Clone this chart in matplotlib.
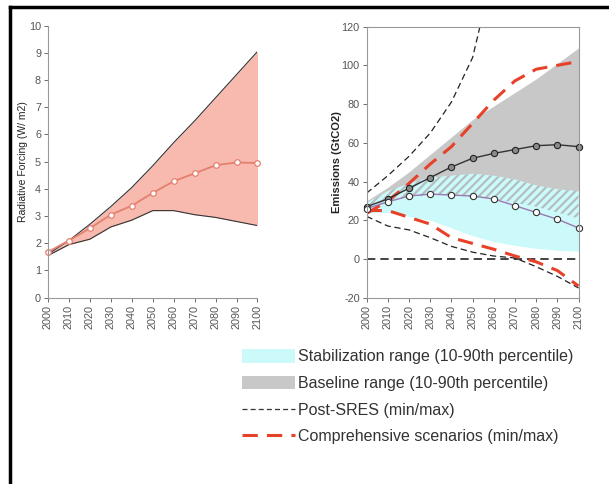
import matplotlib
matplotlib.use('Agg')
import matplotlib.pyplot as plt
from matplotlib.patches import Patch
from matplotlib.lines import Line2D
import numpy as np

plt.rcParams['font.family'] = ['Liberation Sans', 'DejaVu Sans']
plt.rcParams['axes.unicode_minus'] = False
plt.rcParams['hatch.color'] = '#b4bebe'
plt.rcParams['hatch.linewidth'] = 1.6

years = np.arange(2000, 2101, 10)

# left panel: radiative forcing
rf_upper = [1.6, 2.1, 2.7, 3.35, 4.05, 4.85, 5.7, 6.5, 7.35, 8.2, 9.05]
rf_lower = [1.55, 1.95, 2.15, 2.6, 2.85, 3.2, 3.2, 3.05, 2.95, 2.8, 2.65]
rf_median = [1.68, 2.1, 2.55, 3.05, 3.38, 3.85, 4.28, 4.57, 4.87, 4.97, 4.95]

# right panel: emissions
base_upper = [30, 37, 45, 54, 63, 72, 79, 86, 93, 101, 109]
base_lower = [27, 30, 32, 33, 33, 32, 31, 29, 27, 24, 21]
stab_upper = [29, 35, 39, 42, 43, 44, 43, 41, 38, 36, 35]
stab_lower = [24, 24, 22, 20, 16, 12, 9, 7, 5.5, 4.5, 4]
base_median = [27, 31, 36.5, 42, 47.5, 52, 54.5, 56.5, 58.5, 59, 58]
stab_median = [26, 29.5, 32.5, 33.5, 33, 32.5, 31, 27.5, 24, 20.5, 16]
sres_years_up = [2000, 2010, 2020, 2030, 2040, 2050, 2060]
sres_upper = [34, 43, 53, 65, 81, 104, 150]
sres_lower = [22, 17, 15, 11, 6.5, 3.5, 1.5, 0.5, -4, -9, -15]
comp_upper = [23.5, 30, 39, 49, 58, 70, 82, 92, 98, 100, 102]
comp_lower = [25, 25, 21.5, 18, 11, 8, 5, 1.5, -1.5, -6, -14]

legend_labels = ['Stabilization range (10-90th percentile)',
                 'Baseline range (10-90th percentile)',
                 'Post-SRES (min/max)',
                 'Comprehensive scenarios (min/max)']

fig = plt.figure(figsize=(6.09, 4.84), dpi=100)

tick_col = '#555555'
spine_col = '#999999'

def style(ax):
    for s in ax.spines.values():
        s.set_color(spine_col)
        s.set_linewidth(0.8)
    ax.tick_params(colors=tick_col, labelsize=7.8, length=3, width=0.6, pad=2)
    ax.set_xticks(years)
    ax.set_xticklabels([str(y) for y in years], rotation=90)
    ax.set_xlim(2000, 2100)

# left
ax1 = fig.add_axes([0.0788, 0.385, 0.344, 0.562])
ax1.fill_between(years, rf_lower, rf_upper, color='#f8b9af', lw=0)
ax1.plot(years, rf_upper, color='#333333', lw=0.8)
ax1.plot(years, rf_lower, color='#333333', lw=0.8)
ax1.plot(years, rf_median, color='#e4806f', lw=1.3, marker='o', ms=4,
         mfc='white', mec='#e4806f', mew=0.9, clip_on=False)
ax1.set_ylim(0, 10)
ax1.set_yticks(range(0, 11))
ax1.spines['top'].set_visible(False)
ax1.spines['right'].set_visible(False)
style(ax1)
ax1.set_ylabel('Radiative Forcing (W/ m2)', fontsize=7.5, color='#222222', labelpad=1)

# right
ax2 = fig.add_axes([0.602, 0.385, 0.348, 0.560])
ax2.fill_between(years, base_lower, base_upper, color='#c8c8c8', lw=0)
ax2.fill_between(years, stab_lower, stab_upper, color='#ccfafa', lw=0)
overlap_hi = np.minimum(base_upper, stab_upper)
ax2.fill_between(years, base_lower, overlap_hi, where=overlap_hi > np.array(base_lower),
                 facecolor='#ccfafa', hatch='////', lw=0, interpolate=True)
ax2.plot([2000, 2100], [0, 0], color='#222222', lw=1.2, ls=(0, (5, 3)))
ax2.plot(sres_years_up, sres_upper, color='#222222', lw=0.9, ls=(0, (5, 3)))
ax2.plot(years, sres_lower, color='#222222', lw=0.9, ls=(0, (5, 3)))
ax2.plot(years, comp_upper, color='#e8412a', lw=2.2, ls=(0, (5, 3)))
ax2.plot(years, comp_lower, color='#e8412a', lw=2.2, ls=(0, (5, 3)))
ax2.plot(years, base_median, color='#333333', lw=1.0, marker='o', ms=4.5,
         mfc='#8a8a8a', mec='#222222', mew=0.8, clip_on=False)
ax2.plot(years, stab_median, color='#9a78b0', lw=1.0, marker='o', ms=4.5,
         mfc='white', mec='#333333', mew=0.8, clip_on=False)
ax2.set_ylim(-20, 120)
ax2.set_yticks(range(-20, 121, 20))
style(ax2)
ax2.set_ylabel('Emissions (GtCO2)', fontsize=8, color='#222222', labelpad=0,
               fontweight='bold')

handles = [Patch(facecolor='#ccfafa', edgecolor='none'),
           Patch(facecolor='#c8c8c8', edgecolor='none'),
           Line2D([], [], color='#333333', lw=0.9, ls=(0, (4, 2.5))),
           Line2D([], [], color='#e8412a', lw=2.2, ls=(0, (5, 3)))]
fig.legend(handles, legend_labels, loc='upper left',
           bbox_to_anchor=(0.374, 0.308), frameon=False, fontsize=11.5,
           handlelength=3.3, handleheight=0.9, handletextpad=0.2,
           labelspacing=0.72, labelcolor='#333333')

# page frame
fig.add_artist(Line2D([10 / 609, 1], [1 - 7 / 484, 1 - 7 / 484],
                      transform=fig.transFigure, color='black', lw=2.5))
fig.add_artist(Line2D([10 / 609, 10 / 609], [0, 1 - 7 / 484],
                      transform=fig.transFigure, color='black', lw=2.5))

fig.savefig('out.png', dpi=100)
